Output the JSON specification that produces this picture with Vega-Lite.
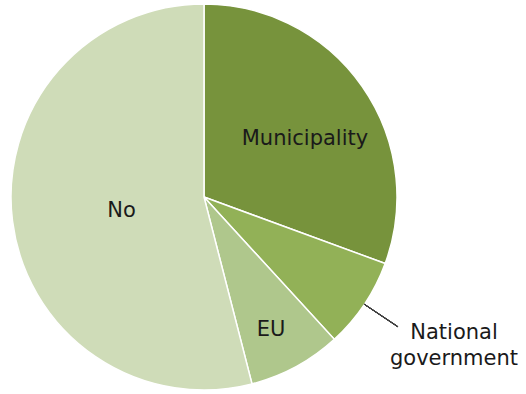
{
  "$schema": "https://vega.github.io/schema/vega-lite/v6.json",
  "width": 408,
  "height": 394,
  "autosize": {"type": "none"},
  "padding": {"left": 0, "top": 0, "right": 118, "bottom": 0},
  "background": "white",
  "view": {"stroke": null},
  "data": {"values": [
    {"source": "Municipality", "share": 30.6, "k": 1},
    {"source": "National government", "share": 7.6, "k": 2},
    {"source": "EU", "share": 7.8, "k": 3},
    {"source": "No", "share": 54.0, "k": 4}
  ]},
  "layer": [
    {
      "mark": {"type": "arc", "outerRadius": 193, "stroke": "white", "strokeWidth": 1.5},
      "encoding": {
        "theta": {"field": "share", "type": "quantitative", "stack": true},
        "order": {"field": "k", "type": "ordinal"},
        "color": {
          "field": "source", "type": "nominal", "legend": null,
          "scale": {"domain": ["Municipality", "National government", "EU", "No"],
                    "range": ["#77933C", "#92B157", "#AFC78C", "#CFDCB8"]}
        }
      }
    },
    {
      "mark": {"type": "arc", "theta": 2.16, "theta2": 2.161, "radius": 193, "radius2": 233, "stroke": "#404040", "strokeWidth": 1, "fill": "transparent"},
      "encoding": {}
    },
    {
      "mark": {"type": "text", "radius": 117, "dx": 5, "dy": 9, "font": "DejaVu Sans", "fontSize": 21, "fill": "#1a1a1a", "align": "center", "baseline": "middle"},
      "encoding": {
        "theta": {"field": "share", "type": "quantitative", "stack": true},
        "order": {"field": "k", "type": "ordinal"},
        "text": {"condition": {"test": "datum.source !== 'Municipality'", "value": ""}, "field": "source", "type": "nominal"}
      }
    },
    {
      "mark": {"type": "text", "radius": 83, "dy": 4, "font": "DejaVu Sans", "fontSize": 21, "fill": "#1a1a1a", "align": "center", "baseline": "middle"},
      "encoding": {
        "theta": {"field": "share", "type": "quantitative", "stack": true},
        "order": {"field": "k", "type": "ordinal"},
        "text": {"condition": {"test": "datum.source !== 'No'", "value": ""}, "field": "source", "type": "nominal"}
      }
    },
    {
      "mark": {"type": "text", "radius": 147, "dx": -3, "dy": 4, "font": "DejaVu Sans", "fontSize": 21, "fill": "#1a1a1a", "align": "center", "baseline": "middle"},
      "encoding": {
        "theta": {"field": "share", "type": "quantitative", "stack": true},
        "order": {"field": "k", "type": "ordinal"},
        "text": {"condition": {"test": "datum.source !== 'EU'", "value": ""}, "field": "source", "type": "nominal"}
      }
    },
    {
      "mark": {"type": "text", "radius": 301, "dy": -26, "lineBreak": " ", "lineHeight": 26, "font": "DejaVu Sans", "fontSize": 21, "fill": "#1a1a1a", "align": "center", "baseline": "alphabetic"},
      "encoding": {
        "theta": {"field": "share", "type": "quantitative", "stack": true},
        "order": {"field": "k", "type": "ordinal"},
        "text": {"condition": {"test": "datum.source !== 'National government'", "value": ""}, "field": "source", "type": "nominal"}
      }
    }
  ]
}
